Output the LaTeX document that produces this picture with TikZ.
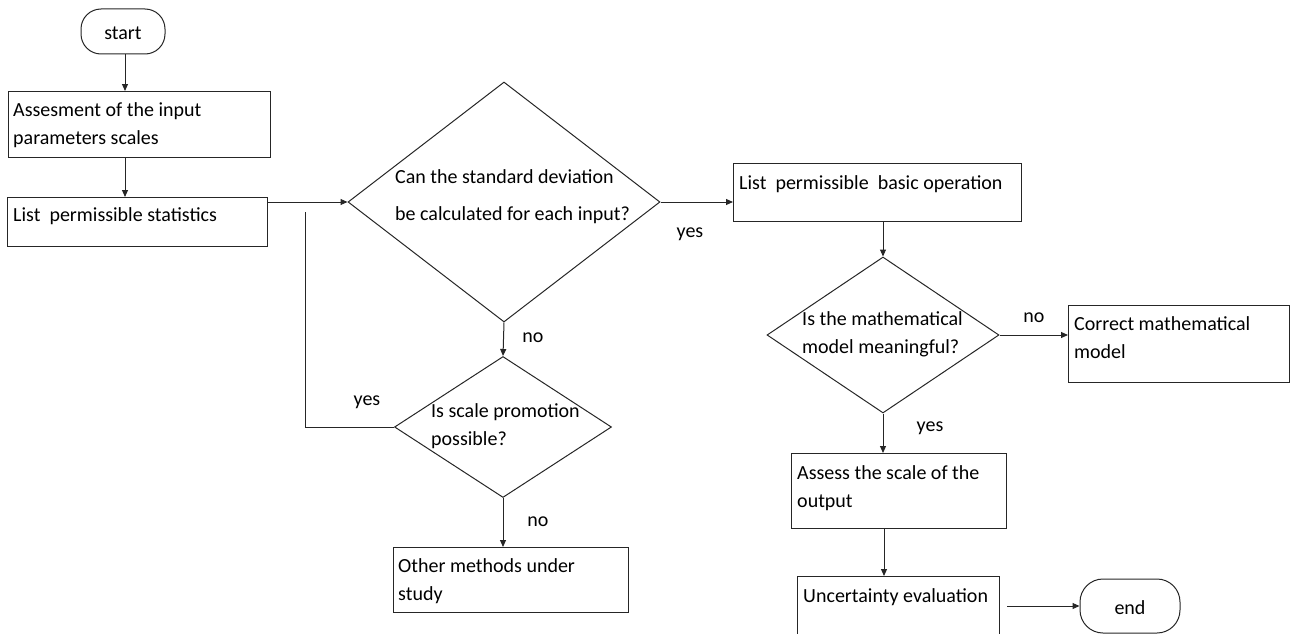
\documentclass[tikz,border=0pt]{standalone}
\usepackage{fontspec}
\setmainfont{Carlito}
\usetikzlibrary{shapes.geometric,arrows.meta,calc}
\newcommand{\fst}{\rule{0pt}{16pt}}
\begin{document}
\begin{tikzpicture}[x=1pt,y=-1pt,
  line/.style={draw=black!85, line width=1pt},
  arr/.style={line, -{Triangle[length=7pt,width=6pt]}},
  box/.style={line, rectangle, inner sep=0pt, anchor=north west},
  term/.style={line, rectangle, inner sep=0pt},
  dec/.style={line, diamond, inner sep=0pt},
  txt/.style={font=\fontsize{20}{28}\selectfont, align=left, inner sep=0pt, anchor=north west, text=black},
  lbl/.style={font=\fontsize{20}{24}\selectfont, inner sep=0pt, anchor=base, text=black}]

\useasboundingbox (0,0) rectangle (1290,634);
\clip (0,0) rectangle (1290,634);

% terminators
\node[term, rounded corners=20pt, minimum width=84pt, minimum height=45pt] (start) at (123,31.5) {};
\node[lbl] at (123,40) {start};
\node[term, rounded corners=23pt, minimum width=100pt, minimum height=54pt] (end) at (1130,606) {};
\node[lbl] at (1130,614) {end};

% boxes
\node[box, minimum width=262pt, minimum height=66pt] (b1) at (8,91) {};
\node[txt] at (13,100) {\fst Assesment of the input\\parameters scales};
\node[box, minimum width=260pt, minimum height=49pt] (b2) at (7,197) {};
\node[txt] at (13,205) {\fst List~~permissible statistics};
\node[box, minimum width=288pt, minimum height=58pt] (b3) at (733,163) {};
\node[txt] at (739,173) {\fst List~~permissible~~basic operation};
\node[box, minimum width=235pt, minimum height=65pt] (b4) at (393,547) {};
\node[txt] at (398,556) {\fst Other methods under\\study};
\node[box, minimum width=221pt, minimum height=77pt] (b5) at (1068,305) {};
\node[txt] at (1074,314) {\fst Correct mathematical\\model};
\node[box, minimum width=215pt, minimum height=75pt] (b6) at (791,453) {};
\node[txt] at (797,463) {\fst Assess the scale of the\\output};
\node[box, minimum width=202pt, minimum height=75pt] (b7) at (797,576) {};
\node[txt] at (803,586) {\fst Uncertainty evaluation};

% decisions
\node[dec, minimum width=312pt, minimum height=240pt] (d1) at (504,202) {};
\node[txt] at (395,167) {\fst Can the standard deviation\\[9pt]be calculated for each input?};
\node[dec, minimum width=217pt, minimum height=141pt] (d2) at (503,427) {};
\node[txt] at (431,401) {\fst Is scale promotion\\possible?};
\node[dec, minimum width=232pt, minimum height=156pt] (d3) at (883,335) {};
\node[txt] at (802,309) {\fst Is the mathematical\\model meaningful?};

% connectors
\draw[arr] (start.south -| 125,0) -- (125,0 |- b1.north);
\draw[arr] (b1.south -| 125,0) -- (125,0 |- b2.north);
\draw[arr] (d1.west -| b2.east) -- (d1.west);
\coordinate (v) at (305,212);
\draw[line] (v) |- (d2.west);
\draw[arr] (d1.east) -- (d1.east -| b3.west);
\draw[arr] (d1.south) -- (d2.north);
\draw[arr] (d2.south) -- (d2.south |- b4.north);
\draw[arr] (d3.north |- b3.south) -- (d3.north);
\draw[arr] (d3.east) -- (d3.east -| b5.west);
\draw[arr] (d3.south) -- (d3.south |- b6.north);
\draw[arr] (b6.south -| 884,0) -- (884,0 |- b7.north);
\draw[arr] ([xshift=7pt]b7.east |- end.west) -- (end.west);

% labels
\node[lbl] at (690,237) {yes};
\node[lbl] at (533,342) {no};
\node[lbl] at (367,405) {yes};
\node[lbl] at (538,526) {no};
\node[lbl] at (1034,322) {no};
\node[lbl] at (930,431) {yes};
\end{tikzpicture}
\end{document}
